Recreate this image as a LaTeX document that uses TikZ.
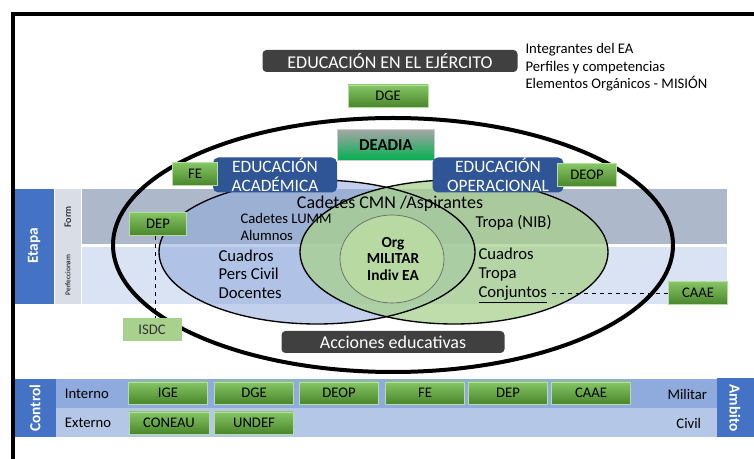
\documentclass[tikz,border=0pt]{standalone}
\usepackage{fontspec}
\setmainfont{Carlito}
\usetikzlibrary{positioning}
\definecolor{etapablue}{HTML}{4472C4}
\definecolor{colgrey}{HTML}{D9DEE6}
\definecolor{formband}{HTML}{ADB9CA}
\definecolor{perfband}{HTML}{DAE3F3}
\definecolor{acadblue}{HTML}{8FAADC}
\definecolor{opergreen}{HTML}{A9D18E}
\definecolor{coregreen}{HTML}{B8DAA2}
\definecolor{boxblue}{HTML}{2F5597}
\definecolor{darkbox}{HTML}{404040}
\definecolor{btntop}{HTML}{86C664}
\definecolor{btnbot}{HTML}{4A862C}
\definecolor{isdcgreen}{HTML}{A9D18E}
\definecolor{rowint}{HTML}{8FAADC}
\definecolor{rowext}{HTML}{B4C7E7}
\tikzset{every path/.style={thick}}
\tikzset{
  gbtn/.style={top color=btntop, bottom color=btnbot, draw=btntop!60!white, line width=.4pt,
    inner sep=0pt, font=\fontsize{11}{13}\selectfont},
  darklbl/.style={fill=darkbox, rounded corners=3pt, text=white, inner sep=0pt},
  bluelbl/.style={fill=boxblue, rounded corners=4pt, text=white, inner sep=0pt, align=center,
    font=\fontsize{13}{14}\selectfont},
  vlbl/.style={text=white, font=\fontsize{11.5}{13}\selectfont\bfseries},
  grp/.style={align=left, anchor=north west, inner sep=0pt, font=\fontsize{12.5}{14.5}\selectfont}
}
\begin{document}
\begin{tikzpicture}[x=0.75pt,y=-0.75pt]
\useasboundingbox (0,0) rectangle (754,459);
% marco
\draw[line width=3pt] (13,459) -- (13,14) -- (754,14);

% franjas de etapa
\fill[etapablue] (15,189) rectangle (54,304);
\fill[colgrey] (55,189) rectangle (81,304);
\fill[formband] (82,189) rectangle (727,244);
\fill[perfband] (82,247) rectangle (727,304);
\node[vlbl, rotate=90] (etapa) at (34,246) {Etapa};
\node[rotate=90, font=\fontsize{7.5}{8}\selectfont] (form) at (68,217) {Form};
\node[rotate=90, font=\fontsize{5.5}{6}\selectfont] (perf) at (68,275) {Perfeccionam};

% elipses
\fill[acadblue, fill opacity=.55] (317,252) ellipse [x radius=158, y radius=72];
\fill[opergreen, fill opacity=.75] (454,252) ellipse [x radius=154, y radius=72];
\draw[line width=1pt] (317,252) ellipse [x radius=158, y radius=72];
\draw[line width=1pt] (454,252) ellipse [x radius=154, y radius=72];
\draw[line width=.5pt, draw=black!60, fill=coregreen] (392,259) ellipse [x radius=52, y radius=44];
\draw[line width=3pt] (393,245) ellipse [x radius=280, y radius=127];

% textos de los grupos
\node[font=\fontsize{13.5}{15}\selectfont] (cmn) at (390,204) {Cadetes CMN /Aspirantes};
\node[grp, font=\fontsize{11}{12.5}\selectfont] (lumm) at (240,213) {Cadetes LUMM\\Alumnos};
\node[grp] (nib) at (475,215) {Tropa (NIB)};
\node[grp, font=\fontsize{12.5}{14}\selectfont] (cuadacad) at (218,249) {Cuadros\\Pers Civil\\Docentes};
\node[grp, font=\fontsize{12.5}{14.3}\selectfont] (cuadoper) at (478,247) {Cuadros\\Tropa\\\underline{Conjuntos}};
\node[align=center, font=\fontsize{11.5}{12.5}\selectfont\bfseries] (org) at (393,259) {Org\\MILITAR\\Indiv EA};

% cabecera
\node[darklbl, minimum width=255*0.75pt, minimum height=22*0.75pt, font=\fontsize{13.5}{15}\selectfont] (titulo) at (390,61) {EDUCACIÓN EN EL EJÉRCITO};
\node[grp, font=\fontsize{11}{13}\selectfont] (perfiles) at (525,43) {Integrantes del EA\\Perfiles y competencias\\Elementos Orgánicos - MISIÓN};
\node[gbtn, minimum width=80*0.75pt, minimum height=22*0.75pt] (dge) at (388,96) {DGE};
\node[top color=black!35, bottom color={rgb,255:red,0;green,176;blue,80}, draw=black!20, line width=.4pt,
  minimum width=97*0.75pt, minimum height=31*0.75pt, font=\fontsize{12.5}{14}\selectfont\bfseries] (deadia) at (386,145) {DEADIA};
\node[bluelbl, minimum width=124*0.75pt, minimum height=35*0.75pt] (acad) at (275,175) {EDUCACIÓN\\ACADÉMICA};
\node[bluelbl, minimum width=131*0.75pt, minimum height=35*0.75pt] (oper) at (498,175) {EDUCACIÓN\\OPERACIONAL};
\node[gbtn, minimum width=45*0.75pt, minimum height=23*0.75pt] (fe) at (195,174) {FE};
\node[gbtn, minimum width=59*0.75pt, minimum height=23*0.75pt] (deop) at (587,175) {DEOP};
\node[gbtn, minimum width=57*0.75pt, minimum height=23*0.75pt] (dep) at (158,224) {DEP};
\node[fill=isdcgreen, inner sep=0pt, minimum width=59*0.75pt, minimum height=23*0.75pt,
  text=black!80, font=\fontsize{11}{13}\selectfont] (isdc) at (152,330) {ISDC};
\node[gbtn, minimum width=59*0.75pt, minimum height=23*0.75pt] (caae) at (698,293) {CAAE};
\node[darklbl, minimum width=223*0.75pt, minimum height=22*0.75pt, font=\fontsize{13.5}{15}\selectfont] (acciones) at (393,342) {Acciones educativas};
\draw[dashed, line width=.6pt] (dep.south -| 155,0) -- (isdc.north -| 155,0);
\draw[dashed, line width=.6pt] (cuadoper.south east |- caae) ++(4,0) -- (caae.west);

% control
\fill[etapablue] (15,379) rectangle (56,437);
\fill[rowint] (56,379) rectangle (717,408);
\fill[rowext] (56,408) rectangle (717,437);
\fill[etapablue] (717,378) rectangle (754,437);
\node[vlbl, rotate=90] (control) at (35,408) {Control};
\node[vlbl, rotate=-90] (ambito) at (735,408) {Ambito};
\node[anchor=west, font=\fontsize{11}{13}\selectfont] (interno) at (60,394) {Interno};
\node[anchor=west, font=\fontsize{11}{13}\selectfont] (externo) at (60,423) {Externo};
\node[anchor=east, font=\fontsize{11}{13}\selectfont] (militar) at (712,394) {Militar};
\node[anchor=east, font=\fontsize{11}{13}\selectfont] (civil) at (706,423) {Civil};
\foreach \nm/\lbl/\cx in {ige/IGE/168, dgec/DGE/254, deopc/DEOP/339, fec/FE/425, depc/DEP/508, caaec/CAAE/591}
  \node[gbtn, minimum width=79*0.75pt, minimum height=22*0.75pt] (\nm) at (\cx,393) {\lbl};
\node[gbtn, minimum width=80*0.75pt, minimum height=22*0.75pt] (coneau) at (169,423) {CONEAU};
\node[gbtn, minimum width=79*0.75pt, minimum height=22*0.75pt] (undef) at (254,423) {UNDEF};
\end{tikzpicture}
\end{document}
